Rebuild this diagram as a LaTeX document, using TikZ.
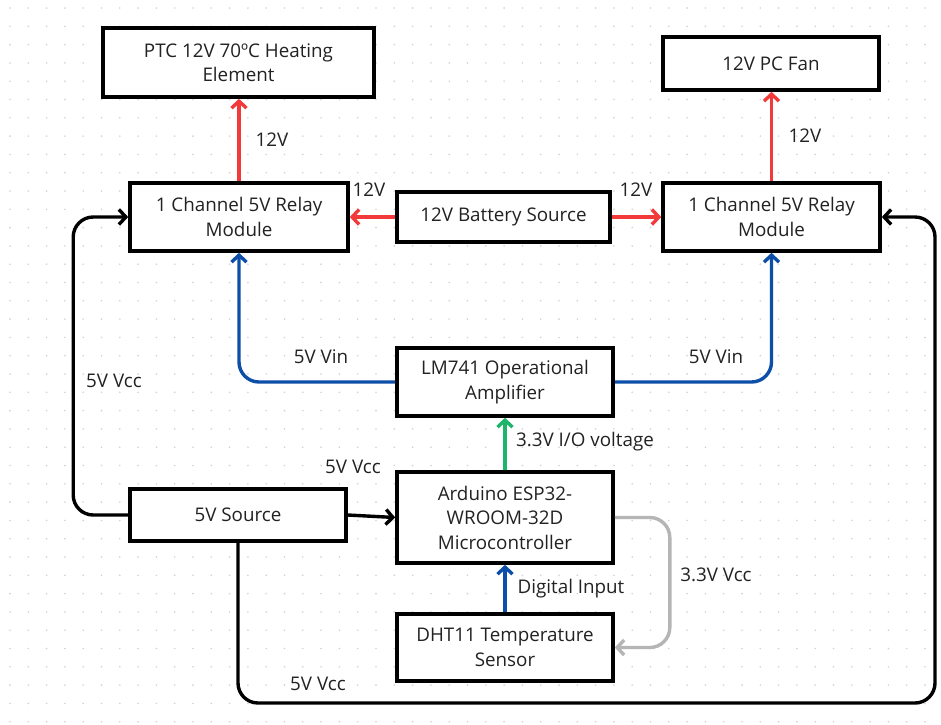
\documentclass[tikz,border=0pt]{standalone}
\usepackage{fontspec}
\setmainfont{Open Sans}
\usetikzlibrary{arrows.meta}
\definecolor{cred}{HTML}{F23A3A}
\definecolor{cblue}{HTML}{0D4FA8}
\definecolor{cgreen}{HTML}{1DB56A}
\definecolor{cgray}{HTML}{B5B5B5}
\definecolor{cdot}{HTML}{D2D2D2}
\definecolor{ctext}{HTML}{222222}
\begin{document}
\begin{tikzpicture}[x=1pt,y=-1pt,
  box/.style={draw=black,line width=3.6pt,fill=white,inner sep=0pt,align=center,text=ctext,font=\fontsize{18.8}{24.5}\selectfont},
  lbl/.style={text=ctext,font=\fontsize{18.8}{20}\selectfont,inner sep=0pt},
  conn/.style={line width=3.4pt,rounded corners=20pt,-{Straight Barb[length=7pt,width=15pt]}},
  redc/.style={conn,draw=cred},
  bluec/.style={conn,draw=cblue},
  greenc/.style={conn,draw=cgreen},
  grayc/.style={conn,draw=cgray},
  blackc/.style={conn,draw=black}]
\useasboundingbox (0,0) rectangle (941,724);
\fill[white] (0,0) rectangle (941,724);
\foreach \i in {0,...,51}{
  \foreach \j in {0,...,39}{
    \fill[cdot] (10+18.3*\i,8+18.3*\j) circle (0.9pt);
  }
}
% boxes
\node[box,minimum width=271pt,minimum height=69pt] (ptc) at (238.5,62.5) {PTC 12V 70ºC Heating\\Element};
\node[box,minimum width=216pt,minimum height=53pt] (fan) at (771,63.5) {12V PC Fan};
\node[box,minimum width=218pt,minimum height=68pt] (rl) at (239,217) {1 Channel 5V Relay\\Module};
\node[box,minimum width=213pt,minimum height=50pt] (bat) at (503.5,217) {12V Battery Source};
\node[box,minimum width=217pt,minimum height=68pt] (rr) at (771.5,217) {1 Channel 5V Relay\\Module};
\node[box,minimum width=216pt,minimum height=68pt] (lm) at (505,382) {LM741 Operational\\Amplifier};
\node[box,minimum width=216pt,minimum height=91pt] (ard) at (505,517.5) {Arduino ESP32-\\WROOM-32D\\Microcontroller};
\node[box,minimum width=216pt,minimum height=52pt] (src) at (238,515) {5V Source};
\node[box,minimum width=216pt,minimum height=67pt] (dht) at (505,647.5) {DHT11 Temperature\\Sensor};
\coordinate (br) at (935,703);
% connectors
\draw[redc] (rl.north) -- (rl.north |- ptc.south);
\draw[redc] (rr.north) -- (rr.north |- fan.south);
\draw[redc] (bat.west) -- (rl.east);
\draw[redc] (bat.east) -- (rr.west);
\draw[bluec] (lm.west) -| (rl.south);
\draw[bluec] (lm.east) -| (rr.south);
\draw[greenc] (ard.north) -- (lm.south);
\draw[blackc] (src.west) -- ++(-55,0) |- (rl.west);
\draw[blackc] (src.east) -- (ard.west);
\draw[blackc] (src.south) |- (br) |- (rr.east);
\draw[grayc] (ard.east) -- ++(55,0) |- (dht.east);
\draw[bluec] (dht.north) -- (ard.south);
% labels
\node[lbl] (l1) at (272,140) {12V};
\node[lbl] (l2) at (805,136) {12V};
\node[lbl] (l3) at (369,190) {12V};
\node[lbl] (l4) at (636,190) {12V};
\node[lbl] (l5) at (321,357) {5V Vin};
\node[lbl] (l6) at (716,357) {5V Vin};
\node[lbl] (l7) at (585,442) {3.3V I/O voltage};
\node[lbl] (l8) at (114,381) {5V Vcc};
\node[lbl] (l9) at (353,467) {5V Vcc};
\node[lbl] (l10) at (318,684) {5V Vcc};
\node[lbl] (l11) at (716,575) {3.3V Vcc};
\node[lbl] (l12) at (571,589) {Digital Input};
\end{tikzpicture}
\end{document}
